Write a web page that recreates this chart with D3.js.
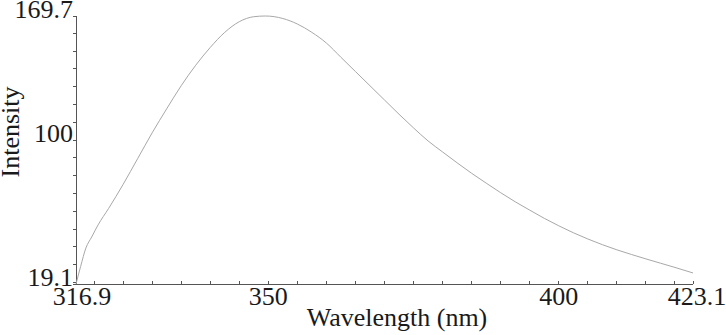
<!DOCTYPE html>
<html><head><meta charset="utf-8">
<script src="https://cdn.jsdelivr.net/npm/d3@7"></script>
<style>
html,body{margin:0;padding:0;background:#fff;}
svg{display:block;}
</style></head>
<body>
<svg id="chart" width="726" height="335"></svg>
<script>
const wavelength = [316.9,317.7,318.6,319.6,320.7,322.5,325,327.5,330,332.5,335,337.5,340,342.5,345,347.5,349.5,352.5,355,357.5,360,362.5,365,367.5,370,372.5,375,377.5,380,382.5,385,387.5,390,392.5,395,397.5,400,402.5,405,407.5,410,412.5,415,417.5,420,423.1];
const intensity  = [19.1,29,39.3,45.5,52.3,61.5,75,89.5,104,117.5,130.5,142,152,160.5,166.5,169.3,169.7,168.3,165.2,160.5,154.5,146.5,138.5,130.5,122.5,114.5,106.8,99.5,93.3,87.2,81.3,75.8,70.4,65.3,60.6,56.0,51.8,47.9,44.4,41.2,38.3,35.7,33.2,30.8,28.4,25.3];
const xTickLabels = [316.9, 350, 400, 423.1];
const yTickLabels = [19.1, 100, 169.7];
const xMinorTicks = d3.range(320, 425, 5);
const yMinorTicks = d3.range(20, 170, 10);

const FONT = '"Liberation Serif"';
const svg = d3.select("#chart");
const x = d3.scaleLinear().domain([316.9, 423.1]).range([76, 693]);
const y = d3.scaleLinear().domain([19.1, 169.7]).range([284, 16]);

const axisColor = "#555";
svg.append("line").attr("x1", x(316.9)).attr("x2", x(423.1)).attr("y1", y(19.1)).attr("y2", y(19.1))
  .attr("stroke", axisColor).attr("stroke-width", 1).attr("shape-rendering","crispEdges");
svg.append("line").attr("x1", x(316.9)).attr("x2", x(316.9)).attr("y1", y(19.1)).attr("y2", y(169.7))
  .attr("stroke", axisColor).attr("stroke-width", 1).attr("shape-rendering","crispEdges");

svg.append("g").selectAll("line").data(xMinorTicks.concat(xTickLabels)).join("line")
  .attr("x1", d => x(d)).attr("x2", d => x(d))
  .attr("y1", y(19.1)).attr("y2", y(19.1) - 3)
  .attr("stroke", axisColor).attr("shape-rendering","crispEdges");
svg.append("g").selectAll("line").data(yMinorTicks.concat(yTickLabels)).join("line")
  .attr("x1", x(316.9) - 3).attr("x2", x(316.9))
  .attr("y1", d => y(d)).attr("y2", d => y(d))
  .attr("stroke", axisColor).attr("shape-rendering","crispEdges");

const xOff = {"316.9": 6, "423.1": 4};
svg.append("g").selectAll("text").data(xTickLabels).join("text")
  .attr("x", d => x(d) + (xOff[String(d)] || 0))
  .attr("y", 305)
  .attr("text-anchor", "middle")
  .style("font-family", FONT).style("fill", "#1a1a1a").style("font-size", "26px")
  .text(d => String(d));
svg.append("g").selectAll("text").data(yTickLabels).join("text")
  .attr("x", 73)
  .attr("y", d => y(d) + 1.5)
  .attr("text-anchor", "end")
  .style("font-family", FONT).style("fill", "#1a1a1a").style("font-size", "26px")
  .text(d => String(d));

svg.append("text").attr("x", 397).attr("y", 326).attr("text-anchor", "middle")
  .style("font-family", FONT).style("fill", "#1a1a1a").style("font-size", "26px")
  .text("Wavelength (nm)");
svg.append("text").attr("transform", "translate(19,132) rotate(-90)").attr("text-anchor", "middle")
  .style("font-family", FONT).style("fill", "#1a1a1a").style("font-size", "26px")
  .text("Intensity");

const line = d3.line().x((d,i) => x(wavelength[i])).y(d => y(d)).curve(d3.curveMonotoneX);
svg.append("path").datum(intensity).attr("d", line)
  .attr("fill", "none").attr("stroke", "#a8a8a8").attr("stroke-width", 1);
</script>
</body></html>
